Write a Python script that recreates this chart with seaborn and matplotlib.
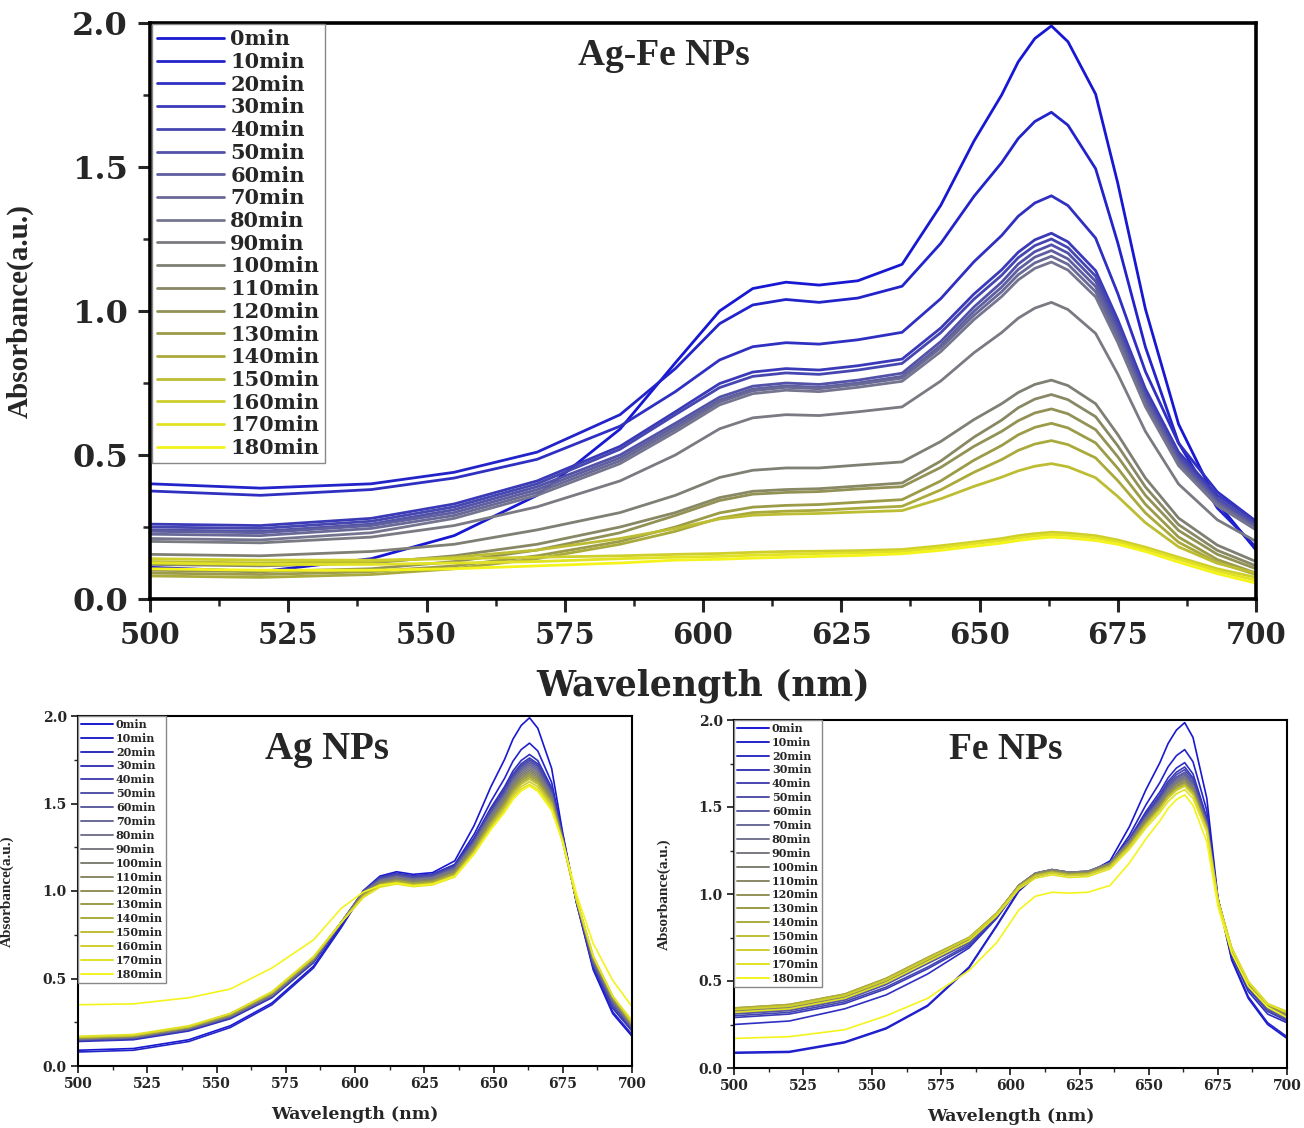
import matplotlib
matplotlib.use("Agg")
import matplotlib.pyplot as plt
import numpy as np
import pandas as pd
import seaborn as sns
from matplotlib.colors import LinearSegmentedColormap, to_hex
from matplotlib.ticker import MultipleLocator, FormatStrFormatter

# ---------------- data ----------------
wavelength = [500, 520, 540, 555, 570, 585, 595, 603, 609, 615, 621, 628, 636,
              643, 649, 654, 657, 660, 663, 666, 671, 675, 680, 686, 693, 700]
times = [0, 10, 20, 30, 40, 50, 60, 70, 80, 90, 100, 110, 120, 130, 140,
         150, 160, 170, 180]
time_labels = [f"{t}min" for t in times]

# Ag-Fe NPs (one row per time)
agfe_abs = [
    [0.110, 0.095, 0.140, 0.220, 0.360, 0.590, 0.820, 1.000, 1.078, 1.100, 1.090, 1.105, 1.162, 1.367, 1.590, 1.750, 1.865, 1.946, 1.990, 1.935, 1.753, 1.444, 1.007, 0.607, 0.334, 0.170],
    [0.400, 0.385, 0.400, 0.440, 0.510, 0.640, 0.800, 0.956, 1.021, 1.040, 1.030, 1.045, 1.086, 1.235, 1.398, 1.515, 1.599, 1.658, 1.690, 1.645, 1.494, 1.237, 0.875, 0.542, 0.316, 0.180],
    [0.375, 0.360, 0.380, 0.420, 0.485, 0.600, 0.720, 0.830, 0.876, 0.890, 0.885, 0.900, 0.926, 1.043, 1.171, 1.262, 1.329, 1.375, 1.400, 1.366, 1.253, 1.061, 0.790, 0.541, 0.372, 0.270],
    [0.260, 0.255, 0.280, 0.330, 0.410, 0.530, 0.650, 0.748, 0.788, 0.800, 0.795, 0.810, 0.833, 0.941, 1.059, 1.143, 1.204, 1.247, 1.270, 1.240, 1.140, 0.970, 0.730, 0.510, 0.360, 0.270],
    [0.250, 0.245, 0.270, 0.320, 0.400, 0.520, 0.640, 0.734, 0.773, 0.785, 0.780, 0.795, 0.818, 0.925, 1.041, 1.124, 1.185, 1.227, 1.250, 1.220, 1.121, 0.953, 0.715, 0.498, 0.349, 0.260],
    [0.240, 0.235, 0.260, 0.310, 0.390, 0.500, 0.610, 0.701, 0.739, 0.750, 0.745, 0.760, 0.784, 0.894, 1.014, 1.100, 1.163, 1.206, 1.230, 1.201, 1.103, 0.938, 0.704, 0.489, 0.343, 0.255],
    [0.235, 0.230, 0.255, 0.300, 0.380, 0.490, 0.600, 0.691, 0.729, 0.740, 0.735, 0.750, 0.773, 0.881, 0.999, 1.083, 1.144, 1.187, 1.210, 1.181, 1.085, 0.922, 0.692, 0.480, 0.336, 0.250],
    [0.225, 0.220, 0.245, 0.290, 0.370, 0.480, 0.590, 0.684, 0.723, 0.735, 0.730, 0.745, 0.767, 0.872, 0.985, 1.067, 1.126, 1.167, 1.190, 1.162, 1.067, 0.907, 0.680, 0.472, 0.330, 0.245],
    [0.210, 0.205, 0.230, 0.280, 0.360, 0.470, 0.580, 0.674, 0.713, 0.725, 0.720, 0.735, 0.756, 0.859, 0.970, 1.050, 1.108, 1.148, 1.170, 1.142, 1.049, 0.891, 0.668, 0.463, 0.324, 0.240],
    [0.200, 0.195, 0.215, 0.255, 0.320, 0.410, 0.500, 0.591, 0.629, 0.640, 0.637, 0.650, 0.667, 0.757, 0.855, 0.925, 0.975, 1.010, 1.030, 1.005, 0.922, 0.781, 0.582, 0.399, 0.275, 0.200],
    [0.155, 0.150, 0.165, 0.190, 0.240, 0.300, 0.360, 0.422, 0.447, 0.455, 0.455, 0.465, 0.476, 0.547, 0.623, 0.678, 0.717, 0.745, 0.760, 0.741, 0.678, 0.571, 0.420, 0.281, 0.187, 0.130],
    [0.120, 0.115, 0.125, 0.150, 0.190, 0.250, 0.300, 0.352, 0.374, 0.380, 0.383, 0.392, 0.403, 0.479, 0.562, 0.621, 0.664, 0.694, 0.710, 0.692, 0.633, 0.532, 0.389, 0.258, 0.169, 0.115],
    [0.100, 0.095, 0.105, 0.130, 0.170, 0.230, 0.290, 0.342, 0.364, 0.370, 0.373, 0.382, 0.390, 0.457, 0.530, 0.582, 0.619, 0.646, 0.660, 0.643, 0.588, 0.494, 0.360, 0.238, 0.155, 0.105],
    [0.090, 0.085, 0.095, 0.115, 0.150, 0.200, 0.250, 0.299, 0.319, 0.325, 0.328, 0.336, 0.345, 0.410, 0.482, 0.533, 0.570, 0.596, 0.610, 0.594, 0.542, 0.454, 0.329, 0.215, 0.137, 0.090],
    [0.080, 0.075, 0.085, 0.105, 0.140, 0.190, 0.235, 0.281, 0.300, 0.305, 0.308, 0.315, 0.322, 0.379, 0.440, 0.484, 0.516, 0.538, 0.550, 0.536, 0.490, 0.411, 0.299, 0.197, 0.127, 0.085],
    [0.130, 0.125, 0.130, 0.145, 0.170, 0.210, 0.245, 0.278, 0.291, 0.295, 0.297, 0.302, 0.307, 0.348, 0.391, 0.423, 0.445, 0.461, 0.470, 0.459, 0.421, 0.356, 0.265, 0.181, 0.124, 0.090],
    [0.140, 0.135, 0.135, 0.140, 0.145, 0.150, 0.155, 0.158, 0.162, 0.165, 0.166, 0.168, 0.172, 0.185, 0.198, 0.210, 0.220, 0.227, 0.232, 0.229, 0.220, 0.205, 0.180, 0.145, 0.105, 0.075],
    [0.125, 0.120, 0.120, 0.125, 0.130, 0.140, 0.145, 0.148, 0.152, 0.155, 0.158, 0.160, 0.165, 0.178, 0.192, 0.203, 0.212, 0.219, 0.224, 0.221, 0.212, 0.198, 0.173, 0.138, 0.097, 0.065],
    [0.105, 0.100, 0.100, 0.105, 0.115, 0.125, 0.135, 0.138, 0.142, 0.145, 0.148, 0.151, 0.157, 0.169, 0.183, 0.194, 0.203, 0.210, 0.215, 0.212, 0.203, 0.190, 0.165, 0.128, 0.088, 0.055],
]

# Ag NPs
ag_abs = [
    [0.090, 0.100, 0.150, 0.230, 0.360, 0.570, 0.800, 1.002, 1.085, 1.110, 1.095, 1.105, 1.172, 1.374, 1.594, 1.752, 1.867, 1.946, 1.990, 1.930, 1.700, 1.330, 0.930, 0.550, 0.300, 0.170],
    [0.080, 0.090, 0.140, 0.220, 0.350, 0.560, 0.790, 0.992, 1.075, 1.100, 1.085, 1.095, 1.152, 1.324, 1.510, 1.644, 1.741, 1.808, 1.845, 1.800, 1.620, 1.320, 0.930, 0.560, 0.310, 0.180],
    [0.140, 0.150, 0.200, 0.270, 0.390, 0.590, 0.810, 0.998, 1.077, 1.100, 1.085, 1.095, 1.148, 1.304, 1.474, 1.596, 1.685, 1.746, 1.780, 1.745, 1.590, 1.310, 0.935, 0.570, 0.330, 0.200],
    [0.145, 0.155, 0.205, 0.275, 0.395, 0.595, 0.815, 1.000, 1.077, 1.100, 1.085, 1.095, 1.146, 1.298, 1.463, 1.582, 1.668, 1.727, 1.760, 1.727, 1.580, 1.305, 0.937, 0.575, 0.340, 0.205],
    [0.150, 0.160, 0.210, 0.280, 0.400, 0.600, 0.820, 0.999, 1.073, 1.095, 1.080, 1.090, 1.141, 1.292, 1.455, 1.573, 1.658, 1.717, 1.750, 1.718, 1.575, 1.303, 0.938, 0.580, 0.345, 0.210],
    [0.150, 0.160, 0.210, 0.280, 0.400, 0.600, 0.820, 0.996, 1.068, 1.090, 1.075, 1.085, 1.136, 1.285, 1.448, 1.565, 1.649, 1.708, 1.740, 1.710, 1.560, 1.300, 0.940, 0.590, 0.360, 0.215],
    [0.150, 0.160, 0.210, 0.280, 0.400, 0.600, 0.820, 0.992, 1.064, 1.085, 1.070, 1.080, 1.130, 1.279, 1.440, 1.556, 1.640, 1.698, 1.730, 1.700, 1.555, 1.298, 0.941, 0.595, 0.365, 0.220],
    [0.155, 0.165, 0.215, 0.285, 0.405, 0.605, 0.820, 0.989, 1.059, 1.080, 1.065, 1.075, 1.125, 1.272, 1.432, 1.547, 1.630, 1.688, 1.720, 1.690, 1.548, 1.296, 0.942, 0.600, 0.370, 0.220],
    [0.155, 0.165, 0.215, 0.285, 0.405, 0.605, 0.820, 0.989, 1.059, 1.080, 1.065, 1.075, 1.124, 1.269, 1.427, 1.540, 1.622, 1.679, 1.710, 1.680, 1.542, 1.294, 0.943, 0.605, 0.375, 0.225],
    [0.155, 0.165, 0.215, 0.285, 0.410, 0.610, 0.820, 0.986, 1.055, 1.075, 1.060, 1.070, 1.119, 1.263, 1.419, 1.531, 1.613, 1.669, 1.700, 1.670, 1.535, 1.292, 0.944, 0.610, 0.380, 0.230],
    [0.160, 0.170, 0.220, 0.290, 0.410, 0.610, 0.820, 0.983, 1.050, 1.070, 1.055, 1.065, 1.113, 1.256, 1.411, 1.523, 1.603, 1.659, 1.690, 1.660, 1.530, 1.290, 0.945, 0.612, 0.383, 0.230],
    [0.160, 0.170, 0.220, 0.290, 0.410, 0.610, 0.820, 0.981, 1.045, 1.065, 1.050, 1.060, 1.108, 1.250, 1.403, 1.514, 1.594, 1.649, 1.680, 1.650, 1.523, 1.288, 0.946, 0.615, 0.386, 0.235],
    [0.160, 0.170, 0.220, 0.290, 0.415, 0.615, 0.820, 0.976, 1.041, 1.060, 1.045, 1.055, 1.103, 1.243, 1.396, 1.505, 1.585, 1.640, 1.670, 1.640, 1.516, 1.286, 0.947, 0.618, 0.390, 0.235],
    [0.160, 0.170, 0.220, 0.295, 0.415, 0.615, 0.820, 0.976, 1.041, 1.060, 1.045, 1.055, 1.102, 1.240, 1.390, 1.498, 1.576, 1.630, 1.660, 1.630, 1.510, 1.284, 0.948, 0.620, 0.393, 0.240],
    [0.165, 0.175, 0.225, 0.295, 0.420, 0.620, 0.820, 0.973, 1.036, 1.055, 1.040, 1.050, 1.097, 1.234, 1.382, 1.489, 1.567, 1.620, 1.650, 1.620, 1.503, 1.282, 0.949, 0.623, 0.396, 0.240],
    [0.165, 0.175, 0.225, 0.300, 0.420, 0.620, 0.820, 0.971, 1.032, 1.050, 1.035, 1.045, 1.091, 1.227, 1.375, 1.481, 1.557, 1.611, 1.640, 1.610, 1.496, 1.280, 0.950, 0.626, 0.400, 0.245],
    [0.165, 0.175, 0.225, 0.300, 0.420, 0.620, 0.820, 0.966, 1.027, 1.045, 1.030, 1.040, 1.086, 1.219, 1.364, 1.468, 1.544, 1.596, 1.625, 1.595, 1.483, 1.280, 0.950, 0.628, 0.400, 0.250],
    [0.170, 0.180, 0.230, 0.300, 0.425, 0.625, 0.820, 0.963, 1.022, 1.040, 1.025, 1.035, 1.080, 1.211, 1.354, 1.456, 1.530, 1.582, 1.610, 1.580, 1.470, 1.280, 0.950, 0.630, 0.400, 0.260],
    [0.350, 0.355, 0.390, 0.440, 0.560, 0.720, 0.900, 0.994, 1.033, 1.045, 1.030, 1.040, 1.084, 1.212, 1.350, 1.450, 1.522, 1.572, 1.600, 1.570, 1.460, 1.280, 0.980, 0.700, 0.490, 0.340],
]

# Fe NPs
fe_abs = [
    [0.090, 0.095, 0.150, 0.230, 0.360, 0.580, 0.820, 1.022, 1.105, 1.130, 1.115, 1.120, 1.190, 1.387, 1.600, 1.754, 1.865, 1.942, 1.985, 1.900, 1.550, 0.980, 0.620, 0.400, 0.250, 0.170],
    [0.085, 0.090, 0.145, 0.225, 0.355, 0.575, 0.815, 1.016, 1.100, 1.125, 1.110, 1.115, 1.174, 1.337, 1.513, 1.640, 1.731, 1.795, 1.830, 1.760, 1.480, 0.970, 0.630, 0.410, 0.260, 0.180],
    [0.250, 0.270, 0.340, 0.420, 0.540, 0.690, 0.860, 1.036, 1.108, 1.130, 1.115, 1.120, 1.174, 1.318, 1.474, 1.586, 1.668, 1.724, 1.755, 1.690, 1.440, 0.970, 0.650, 0.440, 0.310, 0.260],
    [0.290, 0.310, 0.370, 0.455, 0.570, 0.700, 0.865, 1.041, 1.113, 1.135, 1.120, 1.125, 1.177, 1.314, 1.462, 1.569, 1.647, 1.700, 1.730, 1.667, 1.430, 0.970, 0.660, 0.455, 0.325, 0.270],
    [0.300, 0.320, 0.380, 0.465, 0.580, 0.710, 0.870, 1.042, 1.113, 1.135, 1.120, 1.125, 1.176, 1.309, 1.454, 1.558, 1.634, 1.686, 1.715, 1.655, 1.420, 0.970, 0.665, 0.460, 0.330, 0.275],
    [0.310, 0.330, 0.390, 0.480, 0.600, 0.720, 0.875, 1.047, 1.119, 1.140, 1.125, 1.130, 1.179, 1.308, 1.448, 1.549, 1.622, 1.672, 1.700, 1.640, 1.410, 0.970, 0.670, 0.470, 0.335, 0.280],
    [0.315, 0.335, 0.395, 0.485, 0.605, 0.725, 0.878, 1.048, 1.119, 1.140, 1.125, 1.130, 1.179, 1.305, 1.443, 1.542, 1.613, 1.663, 1.690, 1.632, 1.405, 0.970, 0.672, 0.473, 0.340, 0.285],
    [0.320, 0.340, 0.400, 0.490, 0.610, 0.730, 0.880, 1.049, 1.119, 1.140, 1.125, 1.130, 1.178, 1.302, 1.437, 1.534, 1.604, 1.653, 1.680, 1.624, 1.400, 0.970, 0.675, 0.476, 0.345, 0.290],
    [0.325, 0.345, 0.405, 0.495, 0.615, 0.735, 0.882, 1.049, 1.119, 1.140, 1.125, 1.130, 1.177, 1.300, 1.434, 1.531, 1.600, 1.648, 1.675, 1.620, 1.397, 0.970, 0.677, 0.479, 0.350, 0.295],
    [0.330, 0.350, 0.410, 0.500, 0.620, 0.740, 0.885, 1.051, 1.120, 1.140, 1.125, 1.130, 1.177, 1.298, 1.430, 1.525, 1.593, 1.641, 1.667, 1.612, 1.393, 0.970, 0.680, 0.482, 0.352, 0.300],
    [0.330, 0.350, 0.410, 0.500, 0.620, 0.740, 0.885, 1.048, 1.115, 1.135, 1.120, 1.125, 1.172, 1.293, 1.424, 1.518, 1.587, 1.634, 1.660, 1.606, 1.390, 0.970, 0.680, 0.483, 0.353, 0.300],
    [0.335, 0.355, 0.415, 0.505, 0.625, 0.745, 0.888, 1.049, 1.115, 1.135, 1.120, 1.125, 1.171, 1.290, 1.418, 1.511, 1.578, 1.624, 1.650, 1.597, 1.385, 0.968, 0.682, 0.486, 0.356, 0.305],
    [0.340, 0.360, 0.420, 0.510, 0.630, 0.748, 0.890, 1.046, 1.111, 1.130, 1.115, 1.120, 1.166, 1.285, 1.414, 1.507, 1.574, 1.620, 1.646, 1.593, 1.382, 0.967, 0.684, 0.489, 0.360, 0.310],
    [0.345, 0.365, 0.425, 0.515, 0.635, 0.750, 0.890, 1.046, 1.111, 1.130, 1.115, 1.120, 1.166, 1.283, 1.411, 1.502, 1.569, 1.615, 1.640, 1.588, 1.380, 0.966, 0.686, 0.492, 0.363, 0.315],
    [0.345, 0.365, 0.425, 0.515, 0.635, 0.750, 0.890, 1.043, 1.106, 1.125, 1.110, 1.115, 1.160, 1.277, 1.403, 1.494, 1.559, 1.605, 1.630, 1.580, 1.375, 0.965, 0.688, 0.495, 0.366, 0.320],
    [0.340, 0.360, 0.420, 0.510, 0.630, 0.748, 0.888, 1.042, 1.106, 1.125, 1.110, 1.115, 1.160, 1.275, 1.400, 1.490, 1.555, 1.600, 1.626, 1.576, 1.372, 0.964, 0.688, 0.495, 0.367, 0.320],
    [0.335, 0.355, 0.415, 0.505, 0.625, 0.745, 0.885, 1.038, 1.101, 1.120, 1.105, 1.110, 1.155, 1.270, 1.395, 1.485, 1.550, 1.595, 1.620, 1.570, 1.368, 0.963, 0.690, 0.498, 0.370, 0.325],
    [0.320, 0.340, 0.400, 0.490, 0.610, 0.730, 0.875, 1.028, 1.091, 1.110, 1.095, 1.100, 1.144, 1.257, 1.380, 1.468, 1.531, 1.576, 1.600, 1.550, 1.355, 0.960, 0.688, 0.495, 0.367, 0.320],
    [0.170, 0.180, 0.220, 0.300, 0.400, 0.560, 0.720, 0.908, 0.987, 1.010, 1.005, 1.010, 1.049, 1.178, 1.318, 1.419, 1.492, 1.542, 1.570, 1.510, 1.300, 0.930, 0.660, 0.470, 0.350, 0.290],
]

panel_titles = ["Ag-Fe NPs", "Ag NPs", "Fe NPs"]


def to_long(rows):
    recs = []
    for lab, row in zip(time_labels, rows):
        for w, a in zip(wavelength, row):
            recs.append((w, a, lab))
    return pd.DataFrame(recs, columns=["Wavelength", "Absorbance", "Time"])


# ---------------- style ----------------
sns.set_style("ticks")
plt.rcParams["font.family"] = ["DejaVu Serif", "DejaVu Sans"]
plt.rcParams["font.weight"] = "bold"

cmap = LinearSegmentedColormap.from_list(
    "blue_gray_yellow",
    [(0.0, "#1818d2"), (0.45, "#76768e"), (0.55, "#7e7e76"),
     (0.75, "#a0a040"), (1.0, "#f4f41c")])
palette = [to_hex(cmap(i / (len(times) - 1))) for i in range(len(times))]

W, H = 1304, 1128
fig = plt.figure(figsize=(W / 100, H / 100), dpi=100)


def box(x0, x1, y_top, y_bot):
    return [x0 / W, 1 - y_bot / H, (x1 - x0) / W, (y_bot - y_top) / H]


ax_top = fig.add_axes(box(150, 1256, 23, 599))
ax_ag = fig.add_axes(box(78, 632, 716, 1066))
ax_fe = fig.add_axes(box(734, 1287, 720, 1068))

serif_title = "Liberation Serif"


def draw(ax, rows, big):
    df = to_long(rows)
    sns.lineplot(data=df, x="Wavelength", y="Absorbance", hue="Time",
                 hue_order=time_labels, palette=palette, sort=False,
                 estimator=None, linewidth=2.0 if big else 1.2, ax=ax)
    ax.set_xlim(500, 700)
    ax.set_ylim(0, 2.0)
    ax.xaxis.set_major_locator(MultipleLocator(25))
    ax.xaxis.set_minor_locator(MultipleLocator(12.5))
    ax.yaxis.set_major_locator(MultipleLocator(0.5))
    ax.yaxis.set_minor_locator(MultipleLocator(0.25))
    ax.yaxis.set_major_formatter(FormatStrFormatter("%.1f"))
    for s in ax.spines.values():
        s.set_linewidth(2.6 if big else 1.5)
        s.set_color("black")
    ax.tick_params(which="major", direction="out", length=9 if big else 5,
                   width=2.2 if big else 1.3, pad=7 if big else 3,
                   top=False, right=False)
    ax.tick_params(which="minor", direction="out", length=5 if big else 3,
                   width=1.8 if big else 1.0, top=False, right=False)
    for lab in ax.get_xticklabels():
        lab.set_fontweight("bold")
        lab.set_family("DejaVu Serif")
        lab.set_fontsize(21 if big else 10)
    for lab in ax.get_yticklabels():
        lab.set_fontweight("bold")
        lab.set_family("DejaVu Serif")
        lab.set_fontsize(23 if big else 10)

    ax.set_xlabel("Wavelength (nm)", fontsize=25 if big else 12.5,
                  fontweight="bold", family="DejaVu Serif")
    ax.set_ylabel("Absorbance(a.u.)", fontsize=21 if big else 11,
                  fontweight="bold", family=serif_title)

    handles, labels = ax.get_legend_handles_labels()
    fs = 15 if big else 8
    leg = ax.legend(handles, labels, loc="upper left",
                    bbox_to_anchor=(0.002, 0.998) if big else (0.0, 1.0),
                    prop={"family": "DejaVu Serif", "weight": "bold",
                          "size": fs},
                    frameon=True, fancybox=False, framealpha=1,
                    edgecolor="#888888", borderpad=0.25,
                    labelspacing=0.13 if big else 0.26,
                    handlelength=3.2 if big else 2.9,
                    handletextpad=0.3 if big else 0.25, borderaxespad=0.0)
    leg.get_frame().set_linewidth(1.0)
    for ln in leg.get_lines():
        ln.set_linewidth(2.0 if big else 1.4)
    return ax


draw(ax_top, agfe_abs, True)
draw(ax_ag, ag_abs, False)
draw(ax_fe, fe_abs, False)

ax_top.xaxis.set_label_coords(0.5, -0.12)
ax_top.yaxis.set_label_coords(-0.105, 0.5)
ax_ag.xaxis.set_label_coords(0.5, -0.115)
ax_ag.yaxis.set_label_coords(-0.115, 0.5)
ax_fe.xaxis.set_label_coords(0.5, -0.115)
ax_fe.yaxis.set_label_coords(-0.115, 0.5)

ax_top.text(0.465, 0.943, panel_titles[0], transform=ax_top.transAxes,
            ha="center", va="center", fontsize=27, fontweight="bold",
            family=serif_title)
ax_ag.text(0.449, 0.905, panel_titles[1], transform=ax_ag.transAxes,
           ha="center", va="center", fontsize=28, fontweight="bold",
           family=serif_title)
ax_fe.text(0.492, 0.915, panel_titles[2], transform=ax_fe.transAxes,
           ha="center", va="center", fontsize=27, fontweight="bold",
           family=serif_title)

fig.savefig("out.png", dpi=100, facecolor="white")
